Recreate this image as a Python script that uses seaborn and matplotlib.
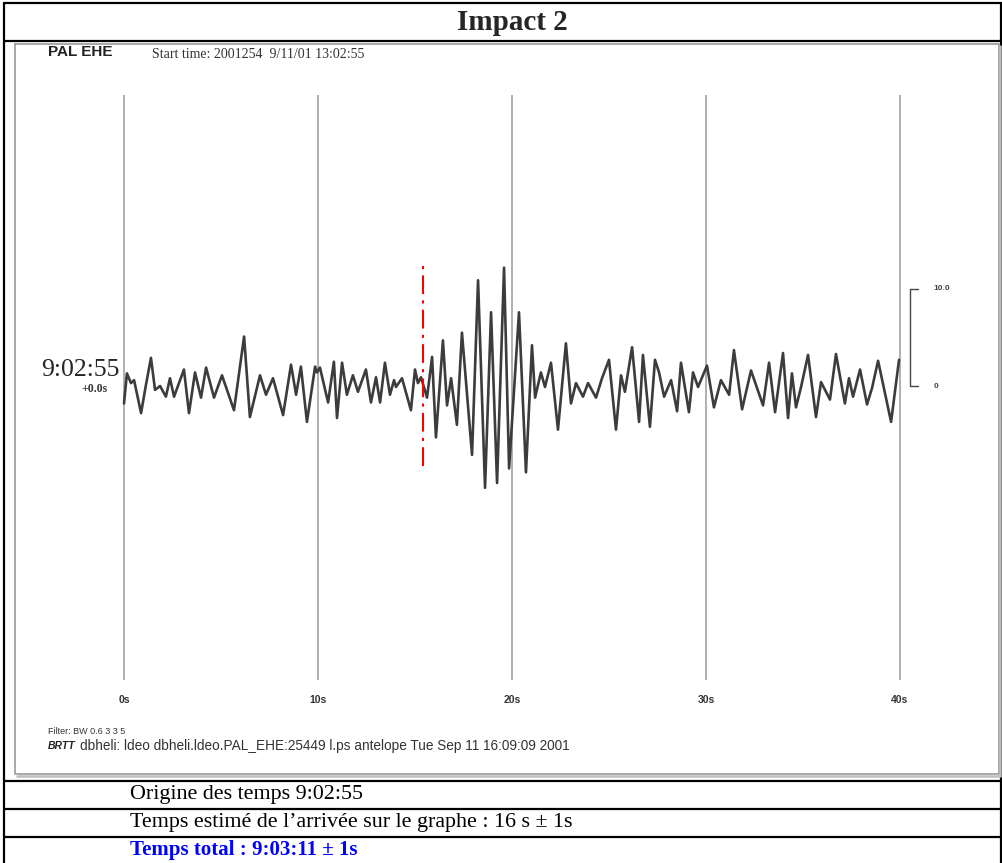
import numpy as np
import pandas as pd
import matplotlib
matplotlib.use('Agg')
import matplotlib.pyplot as plt
import seaborn as sns

# seismogram PAL EHE, peaks and troughs (s, scale units)
time_s = [0.00, 0.15, 0.36, 0.52, 0.88, 1.13, 1.39, 1.60, 1.86, 2.16, 2.37, 2.58,
          3.09, 3.35, 3.66, 3.97, 4.23, 4.64, 5.05, 5.67, 6.19, 6.49, 7.01, 7.32,
          7.68, 8.20, 8.61, 8.87, 9.12, 9.43, 9.85, 9.95, 10.10, 10.52, 10.82, 10.98,
          11.24, 11.49, 11.80, 12.06, 12.47, 12.73, 12.99, 13.20, 13.45, 13.71, 13.92, 14.02,
          14.33, 14.79, 15.00, 15.15, 15.31, 15.62, 15.88, 16.08, 16.44, 16.65, 16.86, 17.16,
          17.42, 17.94, 18.25, 18.61, 18.92, 19.23, 19.59, 19.85, 20.36, 20.72, 21.03, 21.19,
          21.49, 21.70, 22.01, 22.37, 22.78, 23.04, 23.30, 23.66, 23.92, 24.33, 24.64, 25.00,
          25.36, 25.62, 25.82, 26.19, 26.55, 26.75, 27.11, 27.37, 27.58, 27.84, 28.20, 28.51,
          28.71, 29.12, 29.33, 29.59, 30.05, 30.41, 30.77, 31.19, 31.44, 31.86, 32.32, 32.94,
          33.25, 33.56, 33.97, 34.23, 34.43, 34.64, 34.90, 35.26, 35.67, 35.93, 36.39, 36.70,
          37.16, 37.37, 37.58, 37.94, 38.30, 38.56, 38.87, 39.54, 39.95]
amplitude = [-1.8, 1.3, 0.3, 0.6, -2.8, 0.1, 2.9, -0.4, 0.0, -1.1, 0.8, -1.1,
             1.7, -2.8, 1.4, -1.2, 1.9, -1.2, 1.1, -2.5, 5.1, -3.2, 1.1, -0.9,
             0.8, -3.0, 2.2, -0.9, 2.0, -3.7, 2.0, 1.4, 1.9, -1.7, 2.5, -3.3,
             2.4, -0.9, 1.1, -0.6, 1.7, -1.7, 0.9, -1.7, 2.4, -0.9, 0.6, -0.1,
             0.8, -2.5, 1.7, 0.3, 0.9, -1.2, 3.0, -5.3, 4.7, -2.0, 0.8, -4.0,
             5.5, -7.1, 10.9, -10.5, 7.6, -10.0, 12.2, -8.5, 7.6, -8.9, 4.2, -1.2,
             1.4, -0.1, 2.4, -4.5, 4.4, -1.8, 0.3, -1.1, 0.3, -1.2, 0.8, 2.7,
             -4.5, 1.1, -0.6, 4.0, -3.7, 3.2, -4.2, 2.7, 1.4, -1.1, 0.6, -2.6,
             2.4, -2.7, 1.4, -0.1, 2.1, -2.2, 0.6, -0.9, 3.7, -2.4, 1.6, -2.0,
             2.4, -2.7, 3.4, -3.3, 1.3, -2.2, -0.1, 3.2, -3.2, 0.4, -1.4, 3.3,
             -1.8, 0.8, -1.1, 1.7, -1.9, -0.2, 2.6, -3.7, 2.7]

tick_seconds = [0, 10, 20, 30, 40]
tick_labels = ['0s', '10s', '20s', '30s', '40s']
arrival_s = 15.4
scale_values = [0, 10]
scale_labels = ['0', '10.0']

rows = ['Origine des temps 9:02:55',
        'Temps estimé de l\u2019arrivée sur le graphe : 16 s \u00b1 1s',
        'Temps total : 9:03:11 \u00b1 1s']

sns.set_theme(style='white')
plt.rcParams['font.family'] = ['Liberation Sans', 'DejaVu Sans']

W, H = 1003, 863
fig = plt.figure(figsize=(W / 100, H / 100), dpi=100)

# background axes in pixel units for the table around the picture
bg = fig.add_axes([0, 0, 1, 1], zorder=0)
bg.set_xlim(0, W)
bg.set_ylim(H, 0)
bg.axis('off')

k = dict(color='black', lw=1.6, solid_capstyle='butt')
bg.plot([4, 4], [2, H], **k)
bg.plot([1001, 1001], [2, H], **k)
for yy in [3, 41, 781, 809, 837]:
    bg.plot([3, 1002], [yy, yy], **k)

# picture frame with shadow
bg.plot([15, 999, 999, 15, 15], [44, 44, 774, 774, 44], color='#9a9a9a', lw=1.2)
bg.plot([17, 1000.5, 1000.5], [776, 776, 46], color='#bdbdbd', lw=1.8)

serif = ['Liberation Serif', 'DejaVu Serif']
bg.text(512, 22, 'Impact 2', ha='center', va='center', family=serif,
        fontsize=21, fontweight='bold')
bg.text(48, 52, 'PAL EHE', ha='left', va='center', fontsize=11, fontweight='bold', color='#222222')
bg.text(152, 54, 'Start time: 2001254  9/11/01 13:02:55', ha='left', va='center',
        family=serif, fontsize=10, color='#333333')
bg.text(120, 370, '9:02:55', ha='right', va='center', family=serif, fontsize=18.5)
bg.text(108, 389, '+0.0s', ha='right', va='center', family=serif, fontsize=8.5,
        fontweight='bold', color='#333333')
bg.text(48, 731, 'Filter: BW 0.6 3 3 5', ha='left', va='center', fontsize=6.5, color='#333333')
bg.text(48, 746, 'BRTT', ha='left', va='center', fontsize=7.5, fontweight='bold',
        fontstyle='italic', color='#222222')
bg.text(80, 746, 'dbheli: ldeo dbheli.ldeo.PAL_EHE:25449 l.ps antelope Tue Sep 11 16:09:09 2001',
        ha='left', va='center', fontsize=9.8, color='#333333')

for i, txt in enumerate(rows):
    bold = i == 2
    bg.text(130, 794 + 28 * i, txt, ha='left', va='center', family=serif,
            fontsize=15 if bold else 15.8,
            fontweight='bold' if bold else 'normal', color='#0000ff' if bold else 'black')

# seismogram axes: 19.4 px per second, 9.7 px per scale unit, zero at y=386 px
ax = fig.add_axes([16 / W, 1 - 774 / H, 984 / W, 730 / H], zorder=1)
ax.patch.set_alpha(0)
ax.set_xlim((16 - 124) / 19.4, (1000 - 124) / 19.4)
ax.set_ylim((386 - 774) / 9.7, (386 - 44) / 9.7)
ax.axis('off')

ax.vlines(tick_seconds, -30.3, 30.0, color='#b0b0b0', lw=1.4)
for t, lab in zip(tick_seconds, tick_labels):
    ax.text(t, -32.4, lab, ha='center', va='center', fontsize=7.5, fontweight='bold', color='#333333')

trace = pd.DataFrame({'t': time_s, 'amp': amplitude})
sns.lineplot(data=trace, x='t', y='amp', ax=ax, color='#3c3c3c', lw=1.9,
             sort=False, estimator=None)

ax.vlines(arrival_s, -8.2, 12.7, color='red', lw=1.5, linestyles=[(0, (9, 3, 1.5, 3))])

# amplitude scale bar
xb = 40.52
ax.plot([xb + 0.42, xb, xb, xb + 0.42], [scale_values[1], scale_values[1],
        scale_values[0], scale_values[0]], color='#444444', lw=1.0)
for v, lab in zip(scale_values, scale_labels):
    ax.text(xb + 1.2, v, lab, ha='left', va='center', fontsize=6, fontweight='bold', color='#444444')

fig.savefig('out.png', dpi=100)
